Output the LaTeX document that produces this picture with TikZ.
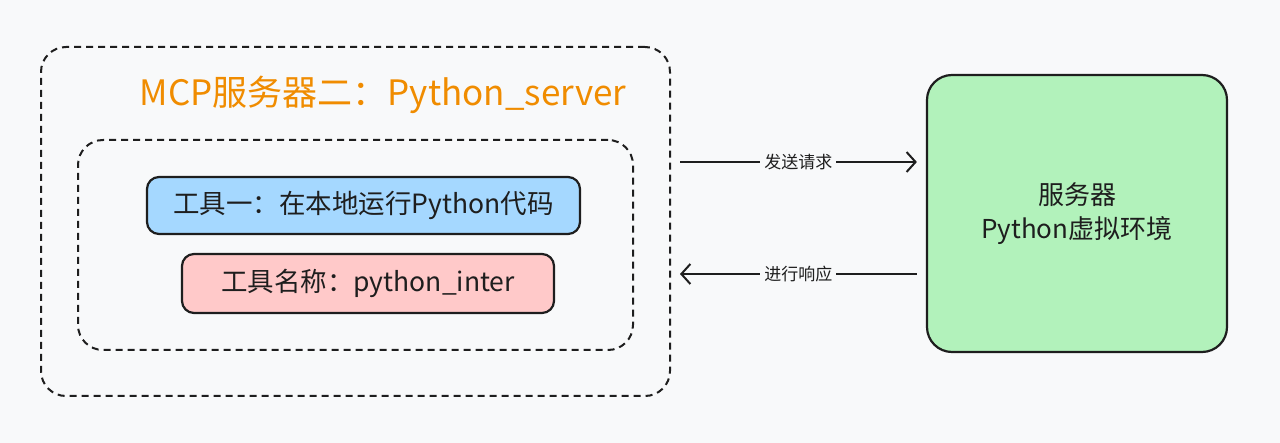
\documentclass[tikz,border=0pt]{standalone}
\usepackage{fontspec}
\setmainfont{Noto Sans CJK SC}
\usetikzlibrary{arrows.meta,positioning}
\definecolor{bgcol}{HTML}{F8F9FA}
\definecolor{inkcol}{HTML}{1E1E1E}
\definecolor{titlecol}{HTML}{F08C00}
\definecolor{toolcol}{HTML}{A5D8FF}
\definecolor{namecol}{HTML}{FFC9C9}
\definecolor{envcol}{HTML}{B2F2BB}

\begin{document}
\begin{tikzpicture}
    [x=1pt,y=-1pt,>={Straight Barb[length=9pt,width=20pt,line width=2pt]},
        line width=2pt,draw=inkcol,text=inkcol,
        group box/.style={draw,dashed,dash pattern=on 7pt off 5pt,rounded corners=25pt,inner sep=0pt},
        tool box/.style={draw,line width=2.2pt,rounded corners=12pt,inner sep=0pt,font=\fontsize{26.5}{30}\selectfont},
        flow/.style={->,line width=2pt,shorten <=9pt,shorten >=9pt},
        flow label/.style={fill=bgcol,inner sep=4pt,font=\fontsize{17}{20}\selectfont}]

    \fill[bgcol] (0,0) rectangle (1280,443);
    \useasboundingbox (0,0) rectangle (1280,443);

    \node[group box, minimum width=629pt, minimum height=349pt] (server) at (355.5,221.5) {};
    \node[group box, minimum width=555pt, minimum height=210pt] (tools) at (355.5,245) {};
    \node[text=titlecol, font=\fontsize{35}{40}\selectfont] (title) at (383,95) {MCP服务器二：Python\_server};

    \node[tool box, fill=toolcol, minimum width=433pt, minimum height=57pt] (runner) at (363.5,205.5) {工具一：在本地运行Python代码};
    \node[tool box, fill=namecol, minimum width=372pt, minimum height=59pt] (toolname) at (368,283.5) {工具名称：python\_inter};

    \node[tool box, fill=envcol, rounded corners=25pt, minimum width=300pt, minimum height=277pt, align=center,
        font=\fontsize{26}{34}\selectfont] (env) at (1077,213.5) {服务器\\Python虚拟环境};

    \draw[flow] (server.east |- 0,162) -- node[flow label] {发送请求} (env.west |- 0,162);
    \draw[flow] (env.west |- 0,274) -- node[flow label] {进行响应} (server.east |- 0,274);
\end{tikzpicture}
\end{document}
